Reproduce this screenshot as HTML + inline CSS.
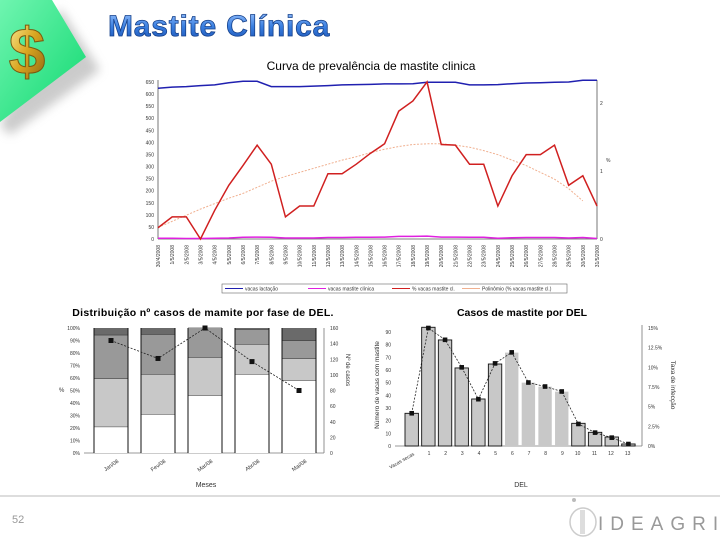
<!DOCTYPE html>
<html><head><meta charset="utf-8">
<style>
body{margin:0;background:#fff;width:720px;height:540px;overflow:hidden;position:relative;font-family:"Liberation Sans",sans-serif}
svg text{font-family:"Liberation Sans",sans-serif}
</style></head>
<body>
<svg id="s" width="720" height="540" viewBox="0 0 720 540" xmlns="http://www.w3.org/2000/svg">
<defs>
<linearGradient id="gg" x1="0" y1="0" x2="1" y2="1"><stop offset="0" stop-color="#6ff5b0"/><stop offset="1" stop-color="#10d870"/></linearGradient>
<linearGradient id="tg" x1="0" y1="0" x2="0" y2="1"><stop offset="0" stop-color="#9fc6ff"/><stop offset="0.5" stop-color="#3a7fe0"/><stop offset="1" stop-color="#1a4fb0"/></linearGradient>
<linearGradient id="dg" x1="0" y1="0" x2="1" y2="1"><stop offset="0" stop-color="#fff2a0"/><stop offset="0.5" stop-color="#d9a520"/><stop offset="1" stop-color="#8a6010"/></linearGradient>
<filter id="blur"><feGaussianBlur stdDeviation="5"/></filter>
</defs>
<g>
<polygon points="60,8 100,70 10,135 0,125" fill="#999" opacity="0.5" filter="url(#blur)"/>
<polygon points="0,0 52,0 86,57 0,122" fill="url(#gg)"/>
<text x="27" y="74" font-size="66" font-weight="bold" fill="url(#dg)" stroke="#7a5a10" stroke-width="1" text-anchor="middle" font-family="Liberation Serif,serif">$</text>
</g>
<text x="108" y="36" font-size="30" font-weight="900" fill="url(#tg)" stroke="#15408a" stroke-width="0.8" letter-spacing="0.8">Mastite Clínica</text>
<text x="371" y="70" font-size="12" text-anchor="middle">Curva de prevalência de mastite clinica</text>
<g id="top"></g>
<g id="bl"></g>
<g id="br"></g>
<line x1="0" y1="496" x2="720" y2="496" stroke="#bbb" stroke-width="1"/>
<text x="12" y="523" font-size="11" fill="#999">52</text>
<g>
<ellipse cx="583" cy="522" rx="13" ry="14" fill="none" stroke="#ccc" stroke-width="1.5"/>
<rect x="580" y="510" width="5" height="24" fill="#ddd"/>
<circle cx="574" cy="500" r="2" fill="#bbb"/>
<text x="598" y="530" font-size="19" fill="#999" letter-spacing="7">IDEAGRI</text>
</g>
</svg>
<script>
const NS='http://www.w3.org/2000/svg';
function mk(p,t,a,txt){const e=document.createElementNS(NS,t);for(const k in a)e.setAttribute(k,a[k]);if(txt!==undefined)e.textContent=txt;p.appendChild(e);return e;}

// ---- Top chart data ----
const dates=['30/4/2008','1/5/2008','2/5/2008','3/5/2008','4/5/2008','5/5/2008','6/5/2008','7/5/2008','8/5/2008','9/5/2008','10/5/2008','11/5/2008','12/5/2008','13/5/2008','14/5/2008','15/5/2008','16/5/2008','17/5/2008','18/5/2008','19/5/2008','20/5/2008','21/5/2008','22/5/2008','23/5/2008','24/5/2008','25/5/2008','26/5/2008','27/5/2008','28/5/2008','29/5/2008','30/5/2008','31/5/2008'];
const lactating=[624,629,631,635,638,647,653,653,631,631,631,633,635,638,639,640,642,642,643,649,649,649,638,638,639,643,646,647,649,650,657,657];
const mastitisCows=[3,3,2,2,3,4,7,8,7,4,4,4,6,6,7,7,8,11,11,12,8,8,7,7,3,5,6,6,6,4,6,2];
const pctMastitis=[0.165,0.325,0.325,0,0.42,0.79,1.08,1.38,1.10,0.325,0.485,0.485,0.96,0.96,1.10,1.26,1.40,1.88,2.03,2.31,1.39,1.38,1.10,1.10,0.485,0.93,1.24,1.24,1.38,0.79,0.93,0.485];
const trend=[0.17,0.26,0.35,0.44,0.52,0.60,0.67,0.76,0.85,0.92,0.98,1.04,1.10,1.16,1.21,1.27,1.32,1.36,1.39,1.40,1.40,1.38,1.35,1.30,1.24,1.16,1.08,0.98,0.88,0.74,0.56];
const leftTicks=[0,50,100,150,200,250,300,350,400,450,500,550,600,650];
const rightTicks=[0,1,2];

const T=document.getElementById('top');
const tx=i=>158+i*(439/31), tyL=v=>239-v*(157/650), tyR=v=>239-v*68;
mk(T,'line',{x1:158,y1:80,x2:158,y2:239,stroke:'#555','stroke-width':0.8});
mk(T,'line',{x1:158,y1:239,x2:597,y2:239,stroke:'#555','stroke-width':0.8});
mk(T,'line',{x1:597,y1:80,x2:597,y2:239,stroke:'#555','stroke-width':0.8});
leftTicks.forEach(v=>{const t=mk(T,'text',{x:154,y:tyL(v)+2,'font-size':5,'text-anchor':'end',fill:'#333'},v);

});
rightTicks.forEach(v=>{const t=mk(T,'text',{x:600,y:tyR(v)+2,'font-size':5,fill:'#333'},v);

});
mk(T,'text',{x:606,y:162,'font-size':5,fill:'#333'},'%');
dates.forEach((d,i)=>{const t=mk(T,'text',{x:0,y:0,'font-size':5,'text-anchor':'end',fill:'#333',transform:`translate(${tx(i)+2},${245}) rotate(-90)`},d);

});
function line(g,arr,fx,fy,attrs,name){const p=mk(g,'polyline',Object.assign({points:arr.map((v,i)=>fx(i)+','+fy(v)).join(' '),fill:'none'},attrs));

return p;}
line(T,trend,tx,tyR,{stroke:'#f0b090','stroke-width':1,'stroke-dasharray':'2,1.5'},'trend-line');
line(T,lactating,tx,tyL,{stroke:'#2020b0','stroke-width':1.5},'lactating-line');
line(T,mastitisCows,tx,tyL,{stroke:'#e020e0','stroke-width':1.5},'mastitis-cows-line');
line(T,pctMastitis,tx,tyR,{stroke:'#d02020','stroke-width':1.5},'pct-mastitis-line');
const lg=mk(T,'g',{});


mk(lg,'rect',{x:222,y:284,width:345,height:9,fill:'#fff',stroke:'#666','stroke-width':0.6});
[['vacas lactação','#2020b0',225],['vacas mastite clínica','#e020e0',308],['% vacas mastite cl.','#d02020',392],['Polinômio (% vacas mastite cl.)','#f0b090',462]].forEach(e=>{
mk(lg,'line',{x1:e[2],y1:288.5,x2:e[2]+18,y2:288.5,stroke:e[1],'stroke-width':1});
mk(lg,'text',{x:e[2]+20,y:290.5,'font-size':5,fill:'#333'},e[0]);});

// ---- Bottom-left chart data ----
const months=['Jan/08','Fev/08','Mar/08','Abr/08','Mai/08'];
const segWhite=[21,31,46,63,58];
const segLight=[38.5,32,30.5,24,17.5];
const segMed=[35,32,24,12,14.5];
const segDark=[5.5,5,0,1,10];
const caseCounts=[144,121,160,117,80];
const pctTicks=['0%','10%','20%','30%','40%','50%','60%','70%','80%','90%','100%'];
const countTicks=[0,20,40,60,80,100,120,140,160];

const B=document.getElementById('bl');
mk(B,'text',{x:203,y:316,'font-size':10.5,'font-weight':'bold','text-anchor':'middle','letter-spacing':'0.3'},'Distribuição nº casos de mamite por fase de DEL.');
const bx=i=>94+i*47, bw=34, by=p=>453-p*1.25, bc=v=>453-v*(125/160);
pctTicks.forEach((t,i)=>{mk(B,'text',{x:80,y:by(i*10)+2,'font-size':5,'text-anchor':'end',fill:'#333'},t);});
countTicks.forEach(v=>{mk(B,'text',{x:330,y:bc(v)+2,'font-size':5,fill:'#333'},v);});
mk(B,'line',{x1:324,y1:328,x2:324,y2:453,stroke:'#777','stroke-width':0.8});
mk(B,'line',{x1:84,y1:453,x2:324,y2:453,stroke:'#777','stroke-width':0.8});
mk(B,'text',{x:59,y:392,'font-size':6,fill:'#333'},'%');
mk(B,'text',{x:0,y:0,'font-size':6,fill:'#333',transform:'translate(346,370) rotate(90)','text-anchor':'middle'},'Nº de casos');
mk(B,'text',{x:206,y:487,'font-size':7,'text-anchor':'middle',fill:'#333'},'Meses');
const cols=['#ffffff','#c8c8c8','#999999','#6a6a6a'], segs=[segWhite,segLight,segMed,segDark];
months.forEach((m,i)=>{let acc=0;
segs.forEach((s,k)=>{const v=s[i];if(v<=0)return;const r=mk(B,'rect',{x:bx(i),y:by(acc+v),width:bw,height:v*1.25,fill:cols[k]});


acc+=v;if(acc<99.5)mk(B,'line',{x1:bx(i),x2:bx(i)+bw,y1:by(acc),y2:by(acc),stroke:'#111','stroke-width':0.8});});
mk(B,'line',{x1:bx(i),x2:bx(i),y1:328,y2:453,stroke:'#111','stroke-width':1});
mk(B,'line',{x1:bx(i)+bw,x2:bx(i)+bw,y1:328,y2:453,stroke:'#111','stroke-width':1});
mk(B,'text',{x:0,y:0,'font-size':5.5,fill:'#333','text-anchor':'end',transform:`translate(${bx(i)+bw/2+8},${462}) rotate(-35)`},m);});
mk(B,'polyline',{points:caseCounts.map((v,i)=>(bx(i)+bw/2)+','+bc(v)).join(' '),fill:'none',stroke:'#222','stroke-width':0.8,'stroke-dasharray':'2,1.5'});
caseCounts.forEach((v,i)=>{const r=mk(B,'rect',{x:bx(i)+bw/2-2.5,y:bc(v)-2.5,width:5,height:5,fill:'#111'});

});

// ---- Bottom-right chart data ----
const delCats=['Vacas secas','1','2','3','4','5','6','7','8','9','10','11','12','13'];
const delCows=[25.8,93.7,83.7,61.6,37.1,64.7,73.7,50,46.8,42.9,17.9,10.8,7.1,1.6];
const infRate=[4.16,15,13.5,10,5.95,10.5,11.9,8.07,7.56,6.93,2.8,1.7,1.06,0.25];
const outlined=[1,1,1,1,1,1,0,0,0,0,1,1,1,1];
const cowTicks=[0,10,20,30,40,50,60,70,80,90];
const rateTicks=['0%','2.5%','5%','7.5%','10%','12.5%','15%'];

const R=document.getElementById('br');
mk(R,'text',{x:522,y:316,'font-size':10.5,'font-weight':'bold','text-anchor':'middle'},'Casos de mastite por DEL');
const rx=i=>411.7+i*16.67, ry=v=>446-v*1.267, rr=v=>446-v*(118/15);
cowTicks.forEach(v=>{mk(R,'text',{x:391,y:ry(v)+2,'font-size':5,'text-anchor':'end',fill:'#333'},v);});
rateTicks.forEach((t,i)=>{mk(R,'text',{x:648,y:rr(i*2.5)+2,'font-size':5,fill:'#333'},t);});
mk(R,'line',{x1:642,y1:325,x2:642,y2:446,stroke:'#777','stroke-width':0.8});
mk(R,'line',{x1:395,y1:446,x2:642,y2:446,stroke:'#777','stroke-width':0.8});
mk(R,'text',{x:0,y:0,'font-size':6.5,fill:'#333','text-anchor':'middle',transform:'translate(379,385) rotate(-90)'},'Número de vacas com mastite');
mk(R,'text',{x:0,y:0,'font-size':6.5,fill:'#333','text-anchor':'middle',transform:'translate(671,385) rotate(90)'},'Taxa de infecção');
mk(R,'text',{x:521,y:487,'font-size':7,'text-anchor':'middle',fill:'#333'},'DEL');
delCats.forEach((c,i)=>{const r=mk(R,'rect',{x:rx(i)-6.7,y:ry(delCows[i]),width:13.4,height:delCows[i]*1.267,fill:'#c8c8c8',stroke:outlined[i]?'#111':'none','stroke-width':0.9});


mk(R,'text',{x:0,y:0,'font-size':5,fill:'#333','text-anchor':'end',transform:i==0?`translate(${rx(i)+3},${455}) rotate(-30)`:`translate(${rx(i)+2},${455})`},c);});
mk(R,'polyline',{points:infRate.map((v,i)=>rx(i)+','+rr(v)).join(' '),fill:'none',stroke:'#222','stroke-width':0.8,'stroke-dasharray':'2,1.5'});
infRate.forEach((v,i)=>{const r=mk(R,'rect',{x:rx(i)-2.3,y:rr(v)-2.3,width:4.6,height:4.6,fill:'#111'});

});
</script>
</body></html>
